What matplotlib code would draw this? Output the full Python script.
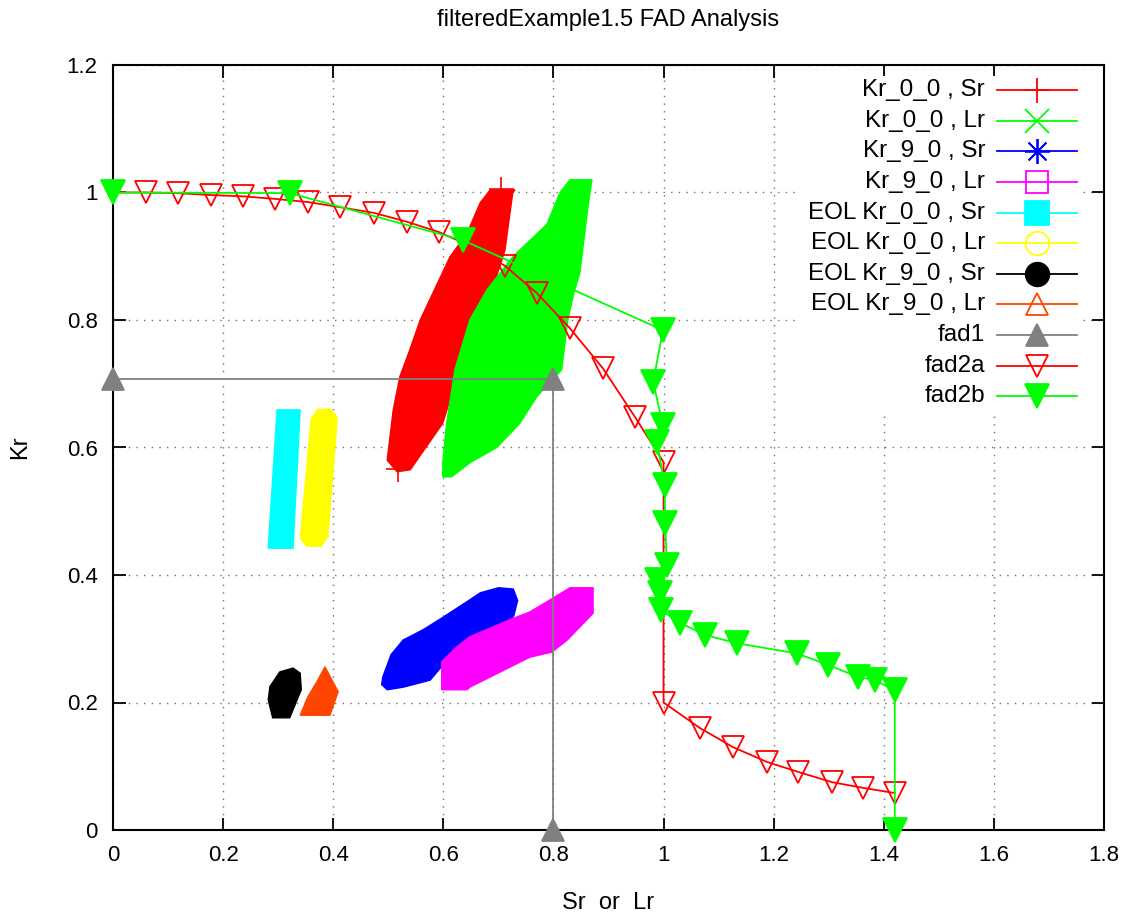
import matplotlib
matplotlib.use("Agg")
import matplotlib.pyplot as plt
from matplotlib.patches import Rectangle

plt.rcParams['font.family'] = ['Liberation Sans', 'DejaVu Sans']

# -------------------------------------------------------
# Data
# -------------------------------------------------------
# point clouds (outline of each dense cloud)
kr00_sr_x = [0.685, 0.730, 0.726, 0.712, 0.690, 0.650, 0.625, 0.599, 0.560, 0.540,
             0.516, 0.498, 0.509, 0.521, 0.539, 0.558, 0.612, 0.643, 0.667]
kr00_sr_y = [1.004, 1.004, 0.999, 0.910, 0.850, 0.780, 0.711, 0.638, 0.590, 0.565,
             0.562, 0.580, 0.659, 0.711, 0.753, 0.800, 0.899, 0.936, 0.984]
kr00_sr_ends_x = [0.705, 0.517]
kr00_sr_ends_y = [1.005, 0.567]

kr00_lr_x = [0.830, 0.870, 0.863, 0.848, 0.837, 0.826, 0.815, 0.770, 0.739, 0.697,
             0.648, 0.615, 0.599, 0.599, 0.606, 0.621, 0.648, 0.679, 0.727, 0.788, 0.812]
kr00_lr_y = [1.020, 1.020, 0.980, 0.874, 0.842, 0.800, 0.722, 0.680, 0.638, 0.600,
             0.576, 0.554, 0.554, 0.576, 0.638, 0.722, 0.800, 0.847, 0.900, 0.950, 1.000]

kr90_sr_x = [0.490, 0.505, 0.527, 0.563, 0.600, 0.648, 0.667, 0.700, 0.727, 0.735,
             0.728, 0.720, 0.667, 0.618, 0.576, 0.527, 0.498, 0.488]
kr90_sr_y = [0.240, 0.275, 0.298, 0.314, 0.334, 0.361, 0.372, 0.380, 0.378, 0.360,
             0.336, 0.328, 0.309, 0.278, 0.235, 0.224, 0.220, 0.228]

kr90_lr_x = [0.830, 0.872, 0.872, 0.825, 0.797, 0.757, 0.648, 0.643, 0.597, 0.597,
             0.624, 0.648, 0.721, 0.757, 0.794]
kr90_lr_y = [0.380, 0.380, 0.340, 0.298, 0.279, 0.271, 0.224, 0.220, 0.220, 0.264,
             0.287, 0.303, 0.330, 0.342, 0.361]

eol00_sr_x = [0.298, 0.340, 0.327, 0.282]
eol00_sr_y = [0.659, 0.659, 0.442, 0.442]

eol00_lr_x = [0.372, 0.395, 0.407, 0.406, 0.390, 0.378, 0.352, 0.340, 0.342, 0.360]
eol00_lr_y = [0.660, 0.660, 0.648, 0.630, 0.460, 0.445, 0.445, 0.458, 0.475, 0.645]

eol90_sr_x = [0.327, 0.340, 0.342, 0.330, 0.321, 0.290, 0.282, 0.285, 0.303]
eol90_sr_y = [0.254, 0.246, 0.220, 0.195, 0.176, 0.176, 0.204, 0.225, 0.248]

eol90_lr_x = [0.385, 0.409, 0.394, 0.340, 0.354, 0.370]
eol90_lr_y = [0.256, 0.217, 0.180, 0.180, 0.209, 0.232]

# FAD curves
fad1_x = [0.0, 0.8, 0.8]
fad1_y = [0.707, 0.707, 0.0]

fad2a_x = [0.0, 0.060, 0.118, 0.178, 0.236, 0.294, 0.354, 0.412, 0.474, 0.534,
           0.592, 0.652, 0.712, 0.770, 0.830, 0.890, 0.948, 1.0, 1.0, 1.066,
           1.126, 1.187, 1.245, 1.306, 1.363, 1.420]
fad2a_y = [1.0, 1.0, 0.999, 0.996, 0.994, 0.990, 0.985, 0.977, 0.968, 0.954,
           0.938, 0.915, 0.885, 0.842, 0.787, 0.724, 0.648, 0.577, 0.200, 0.160,
           0.130, 0.107, 0.091, 0.075, 0.066, 0.058]

fad2b_x = [0.0, 0.321, 0.636, 0.999, 0.981, 0.999, 0.988, 1.002, 1.003, 1.006,
           0.988, 0.993, 0.995, 1.030, 1.075, 1.133, 1.242, 1.299, 1.353, 1.384,
           1.420, 1.420]
fad2b_y = [1.0, 0.999, 0.925, 0.784, 0.703, 0.635, 0.609, 0.541, 0.481, 0.416,
           0.392, 0.371, 0.345, 0.325, 0.306, 0.293, 0.277, 0.259, 0.240, 0.235,
           0.219, 0.0]

x_ticks = [0, 0.2, 0.4, 0.6, 0.8, 1, 1.2, 1.4, 1.6, 1.8]
x_tick_labels = ['0', '0.2', '0.4', '0.6', '0.8', '1', '1.2', '1.4', '1.6', '1.8']
y_ticks = [0, 0.2, 0.4, 0.6, 0.8, 1, 1.2]
y_tick_labels = ['0', '0.2', '0.4', '0.6', '0.8', '1', '1.2']

labels = ['Kr_0_0 , Sr', 'Kr_0_0 , Lr', 'Kr_9_0 , Sr', 'Kr_9_0 , Lr',
          'EOL Kr_0_0 , Sr', 'EOL Kr_0_0 , Lr', 'EOL Kr_9_0 , Sr', 'EOL Kr_9_0 , Lr',
          'fad1', 'fad2a', 'fad2b']

# style of each series (same order as labels)
colors = ['#ff0000', '#00ff00', '#0000ff', '#ff00ff', '#00ffff', '#ffff00',
          '#000000', '#ff4500', '#808080', '#ff0000', '#00ff00']
markers = ['+', 'x', (8, 2, 0), 's', 's', 'o', 'o', '^', '^', 'v', 'v']
filled = [True, True, True, False, True, False, True, False, True, False, True]
msizes = [18, 17, 18, 16, 17, 17, 17, 16, 16, 16, 17]

fig = plt.figure(figsize=(11.28, 9.21), dpi=100)
ax = fig.add_axes([113 / 1128, 91 / 921, 991 / 1128, 765 / 921])

# -------------------------------------------------------
# Clouds
# -------------------------------------------------------
clouds = [(kr00_sr_x, kr00_sr_y), (kr00_lr_x, kr00_lr_y), (kr90_sr_x, kr90_sr_y),
          (kr90_lr_x, kr90_lr_y), (eol00_sr_x, eol00_sr_y), (eol00_lr_x, eol00_lr_y),
          (eol90_sr_x, eol90_sr_y), (eol90_lr_x, eol90_lr_y)]
for i, (cx, cy) in enumerate(clouds):
    ax.fill(cx, cy, color=colors[i], lw=1.0, zorder=2 + i * 0.1)
    if i == 0:
        ax.plot(kr00_sr_ends_x, kr00_sr_ends_y, ls='none', marker='+',
                ms=msizes[0], mew=1.2, color=colors[0], zorder=2)

# -------------------------------------------------------
# FAD lines
# -------------------------------------------------------
for k, (fx, fy) in zip([8, 9, 10], [(fad1_x, fad1_y), (fad2a_x, fad2a_y), (fad2b_x, fad2b_y)]):
    ax.plot(fx, fy, color=colors[k], lw=1.3, marker=markers[k], ms=msizes[k],
            mfc=colors[k] if filled[k] else 'none', mec=colors[k], mew=1.3,
            clip_on=False, zorder=4 + k * 0.1)

# -------------------------------------------------------
# Axes styling (gnuplot look)
# -------------------------------------------------------
ax.set_xlim(0, 1.8)
ax.set_ylim(0, 1.2)
ax.set_xticks(x_ticks)
ax.set_xticklabels(x_tick_labels)
ax.set_yticks(y_ticks)
ax.set_yticklabels(y_tick_labels)
ax.tick_params(direction='in', length=9, width=1.3, top=True, right=True,
               labelsize=16, pad=11)
for s in ax.spines.values():
    s.set_linewidth(1.5)
ax.set_axisbelow(True)
ax.grid(True, color='#707070', linestyle=(0, (1, 4.5)), linewidth=1.0)

# legend area blanks the grid
ax.add_patch(Rectangle((0.69, 0.545), 0.285, 0.44, transform=ax.transAxes,
                       facecolor='white', edgecolor='none', zorder=1))

# legend drawn by hand: text right of handle like gnuplot
y0 = 0.967
dy = 0.040
for i, lab in enumerate(labels):
    yy = y0 - i * dy
    ax.text(0.880, yy, lab, transform=ax.transAxes, ha='right', va='center',
            fontsize=17.5, zorder=6)
    ax.plot([0.892, 0.973], [yy, yy], transform=ax.transAxes, color=colors[i],
            lw=1.3, zorder=6)
    ax.plot([0.932], [yy], transform=ax.transAxes, ls='none', marker=markers[i],
            ms=msizes[i], color=colors[i], mec=colors[i],
            mfc=colors[i] if filled[i] else 'none', mew=1.3, zorder=6)

fig.text(608 / 1128, 1 - 20 / 921, 'filteredExample1.5 FAD Analysis',
         ha='center', va='center', fontsize=17)
fig.text(608 / 1128, 1 - 903 / 921, 'Sr  or  Lr', ha='center', va='center', fontsize=17)
fig.text(20 / 1128, 1 - 447 / 921, 'Kr', ha='center', va='center', rotation=90,
         fontsize=17)

fig.savefig('out.png', dpi=100)
